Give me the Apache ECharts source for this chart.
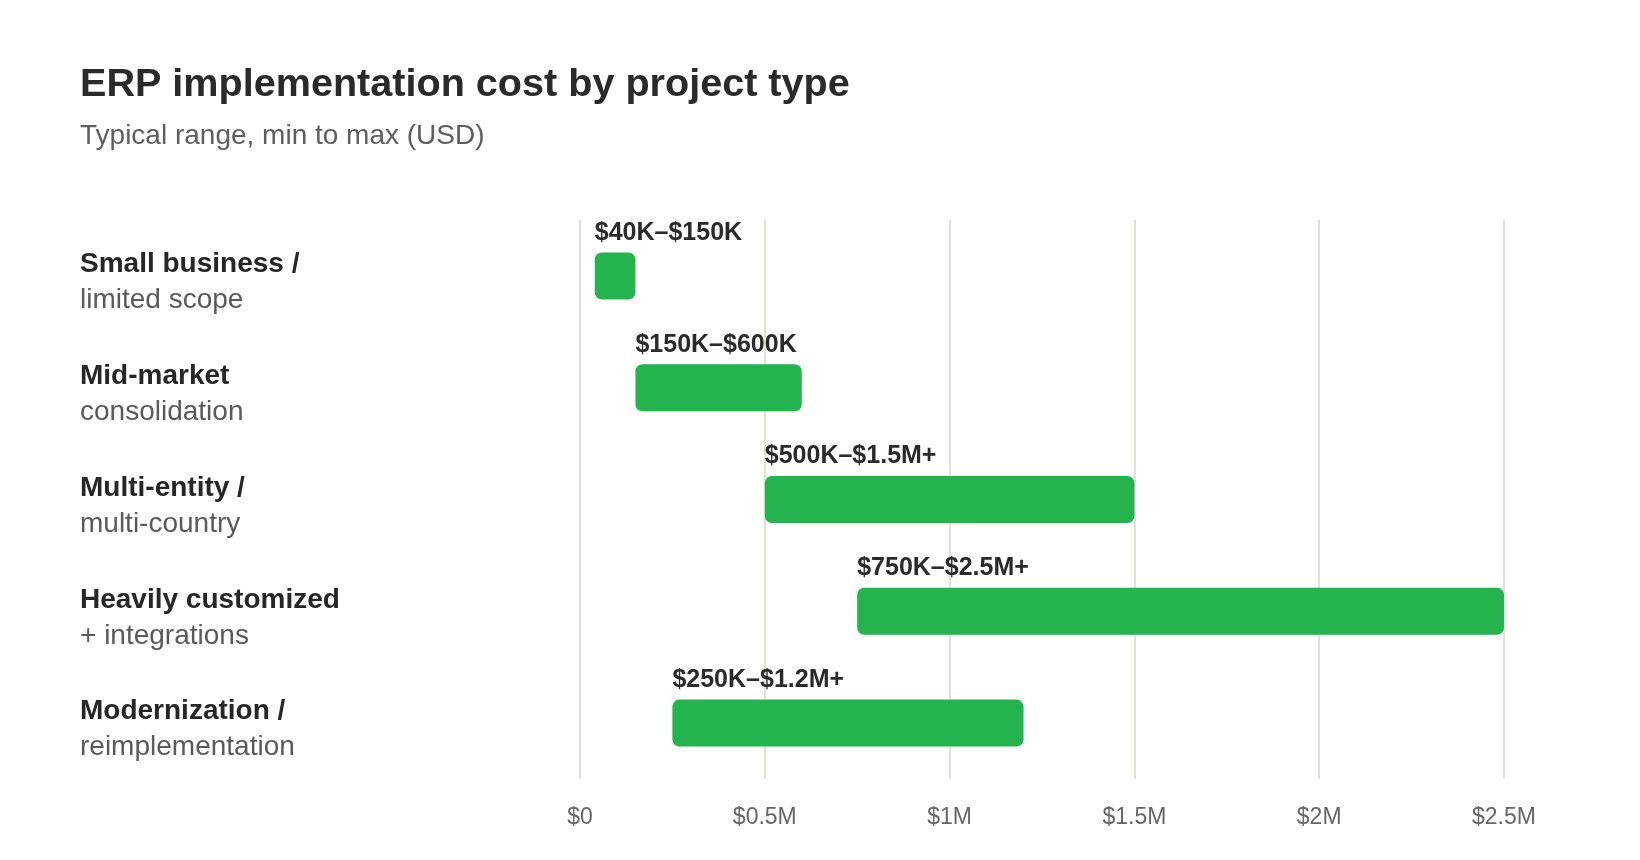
<!DOCTYPE html>
<html>
<head>
<meta charset="utf-8">
<title>ERP implementation cost by project type</title>
<script src="https://cdn.jsdelivr.net/npm/echarts@6/dist/echarts.min.js"></script>
<style>
  html, body { margin: 0; padding: 0; background: #fff; }
  #chart { width: 1640px; height: 860px; }
</style>
</head>
<body>
<div id="chart"></div>
<script>
// data
const projectTypes = ['Small business /', 'Mid-market', 'Multi-entity /', 'Heavily customized', 'Modernization /']
const projectNotes = ['limited scope', 'consolidation', 'multi-country', '+ integrations', 'reimplementation']
const minCost = [40000, 150000, 500000, 750000, 250000]
const maxCost = [150000, 600000, 1500000, 2500000, 1200000]
const rangeLabels = ['$40K–$150K', '$150K–$600K', '$500K–$1.5M+', '$750K–$2.5M+', '$250K–$1.2M+']
const tickValues = [0, 500000, 1000000, 1500000, 2000000, 2500000]
const tickLabels = ['$0', '$0.5M', '$1M', '$1.5M', '$2M', '$2.5M']

const FONT = '"Liberation Sans", Arial, sans-serif'
const GREEN = '#24b34c'

const chart = echarts.init(document.getElementById('chart'))

// category text: bold name on top, grey note under it
const categoryKeys = projectTypes.map((t, i) => '{b|' + t + '}\n{s|' + projectNotes[i] + '}')

const option = {
  backgroundColor: '#ffffff',
  animation: false,
  title: {
    text: 'ERP implementation cost by project type',
    subtext: 'Typical range, min to max (USD)',
    left: 80,
    top: 63,
    padding: 0,
    itemGap: 13,
    textStyle: {
      fontFamily: FONT,
      fontSize: 39.6,
      fontWeight: 'bold',
      color: '#2a2a2a',
      lineHeight: 44
    },
    subtextStyle: {
      fontFamily: FONT,
      fontSize: 28,
      color: '#5e5e5e',
      lineHeight: 32
    }
  },
  grid: {
    left: 580,
    right: 136,
    top: 220,
    bottom: 81,
    containLabel: false
  },
  xAxis: {
    type: 'value',
    min: tickValues[0],
    max: tickValues[tickValues.length - 1],
    interval: tickValues[1] - tickValues[0],
    axisLine: { show: false },
    axisTick: { show: false },
    splitLine: {
      show: true,
      lineStyle: { color: '#e2e0d9', width: 2 }
    },
    axisLabel: {
      margin: 27,
      fontFamily: FONT,
      fontSize: 23,
      color: '#666666',
      formatter: (v) => {
        const idx = tickValues.indexOf(v)
        return idx >= 0 ? tickLabels[idx] : ''
      }
    }
  },
  yAxis: {
    type: 'category',
    inverse: true,
    data: categoryKeys,
    axisLine: { show: false },
    axisTick: { show: false },
    splitLine: { show: false },
    axisLabel: {
      margin: 500,
      align: 'left',
      padding: [13, 0, 0, 0],
      formatter: (v) => v,
      rich: {
        b: {
          fontFamily: FONT,
          fontSize: 28,
          fontWeight: 'bold',
          color: '#262626',
          lineHeight: 36
        },
        s: {
          fontFamily: FONT,
          fontSize: 28,
          color: '#5a5a5a',
          lineHeight: 36
        }
      }
    }
  },
  series: [
    {
      // invisible base up to the minimum
      name: 'base',
      type: 'bar',
      stack: 'range',
      barWidth: 47,
      silent: true,
      itemStyle: { color: 'transparent' },
      data: minCost
    },
    {
      name: 'range',
      type: 'bar',
      stack: 'range',
      barWidth: 47,
      silent: true,
      itemStyle: { color: GREEN, borderRadius: 7 },
      label: {
        show: true,
        position: [0, -7],
        align: 'left',
        verticalAlign: 'bottom',
        fontFamily: FONT,
        fontSize: 25,
        fontWeight: 'bold',
        color: '#2a2a2a',
        formatter: (p) => rangeLabels[p.dataIndex]
      },
      data: maxCost.map((v, i) => v - minCost[i])
    }
  ]
}

chart.setOption(option)
</script>
</body>
</html>
